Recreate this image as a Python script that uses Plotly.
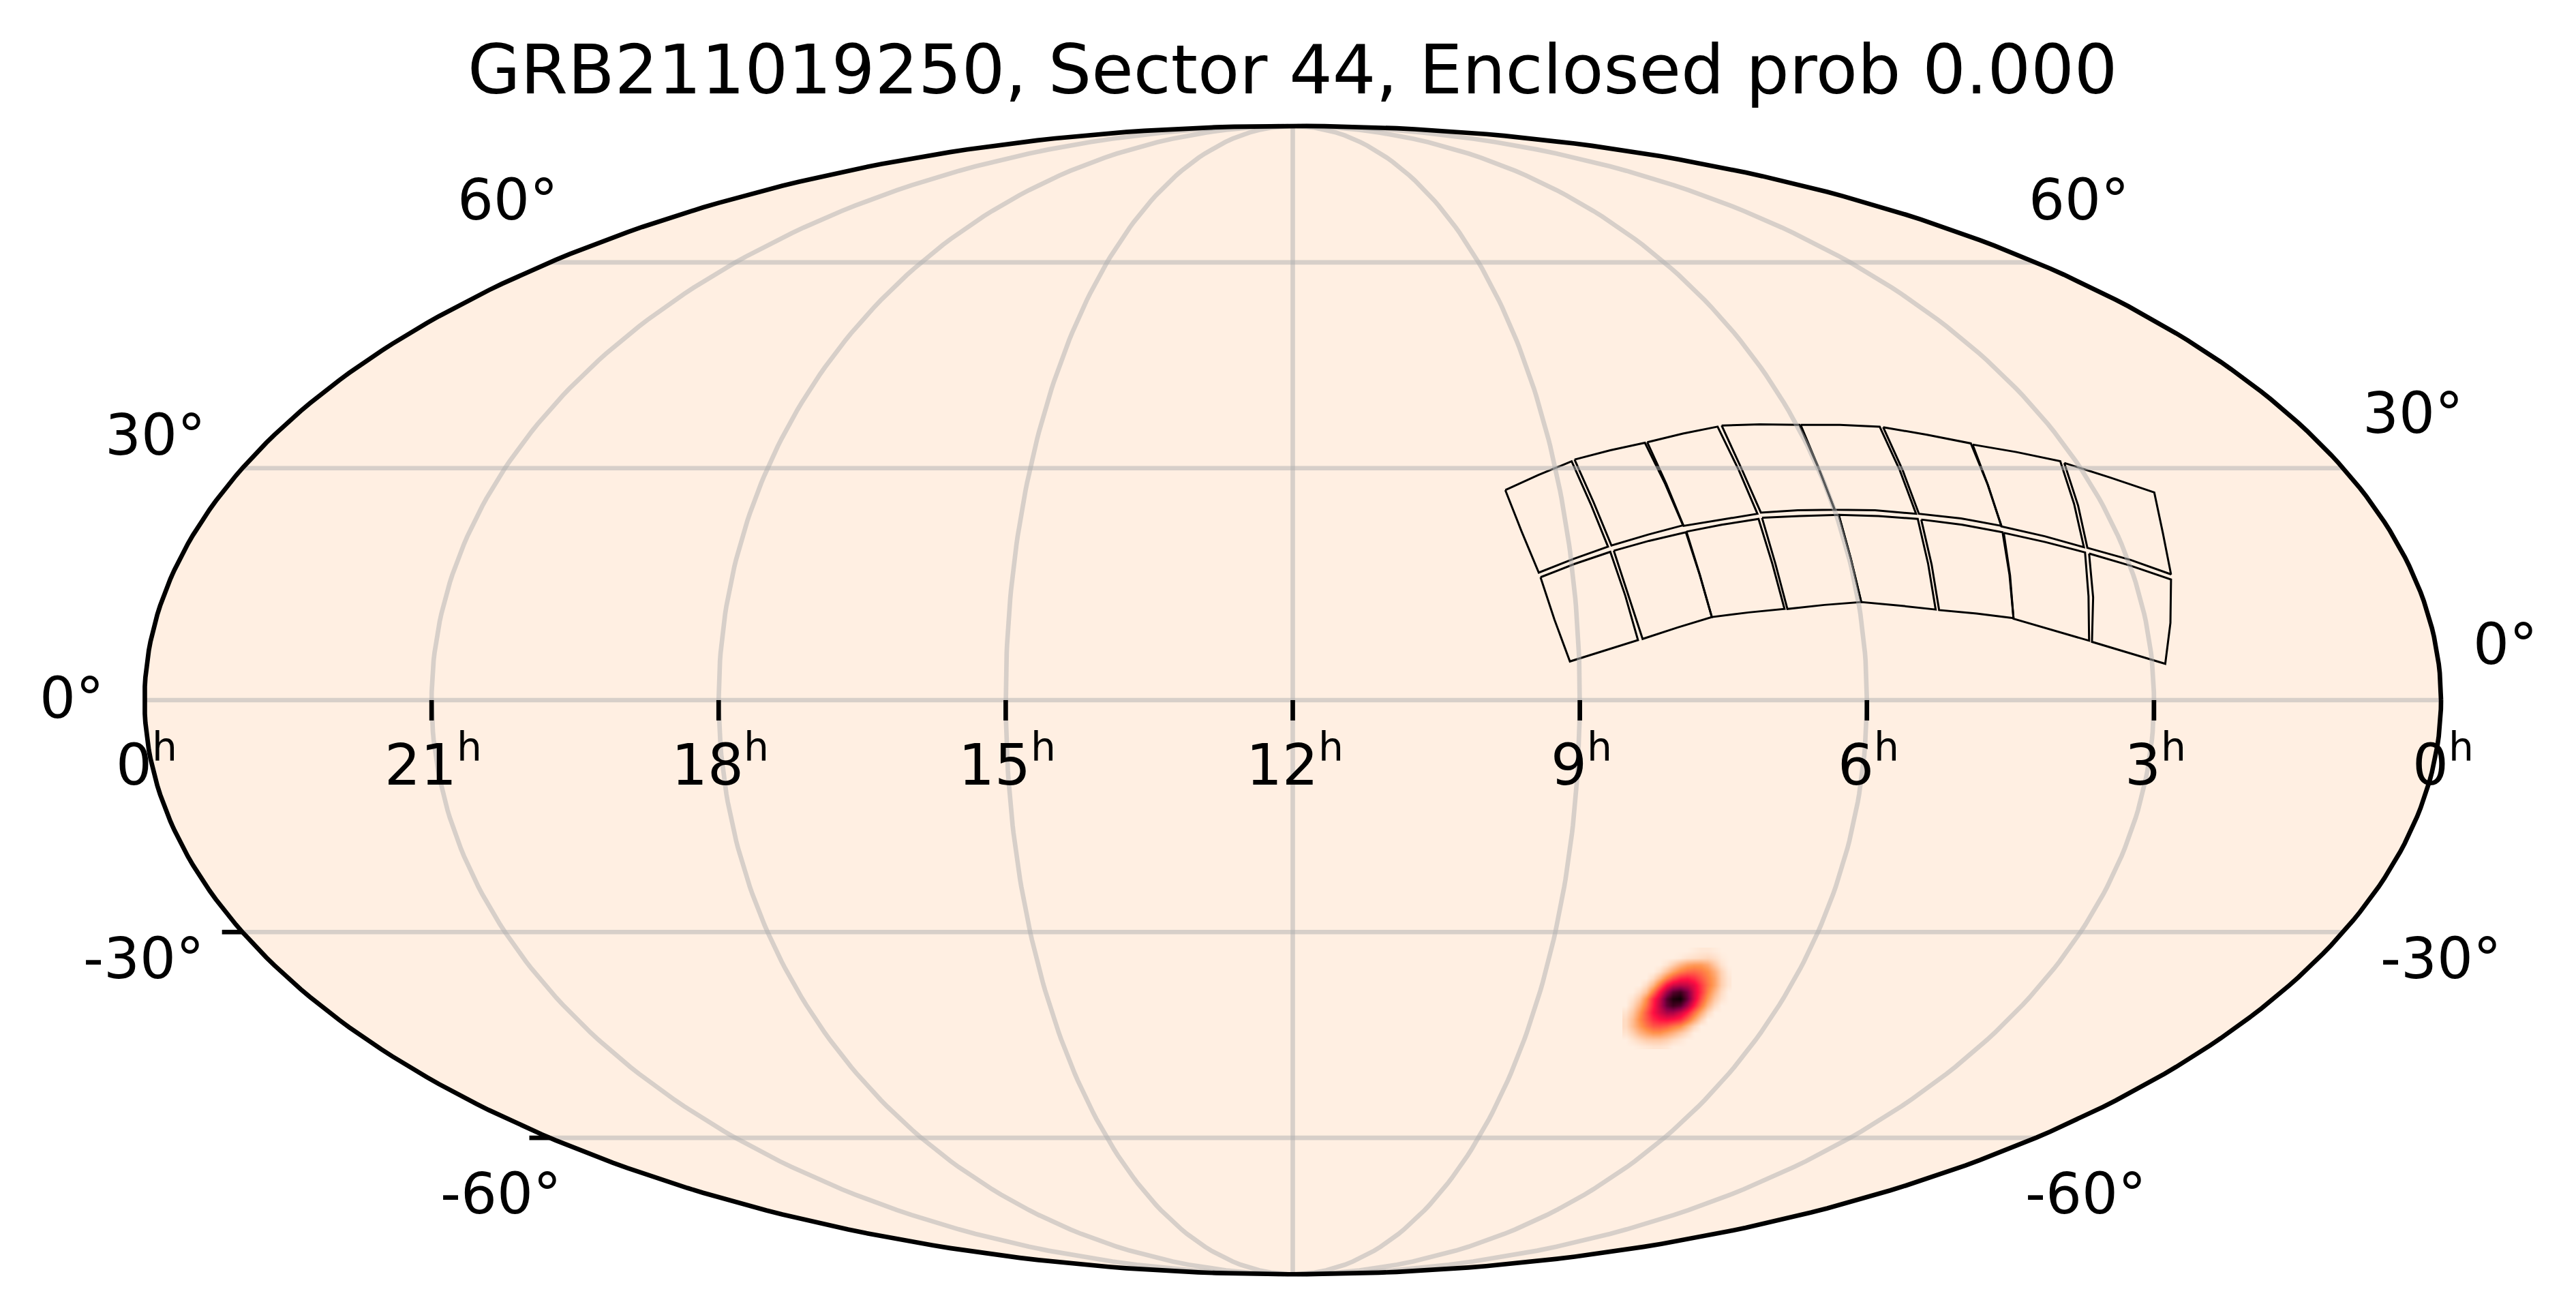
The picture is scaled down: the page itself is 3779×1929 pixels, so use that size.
import numpy as np
import plotly.graph_objects as go

TITLE = "GRB211019250, Sector 44, Enclosed prob 0.000"

# graticule
ra_ticks = [21, 18, 15, 12, 9, 6, 3]
dec_ticks = [-60, -30, 0, 30, 60]

# tick labels, map units (semi axes 2 and 1)
ra_labels = ["0", "21", "18", "15", "12", "9", "6", "3", "0"]
ra_label_x = [-1.997, -1.497, -0.997, -0.497, 0.003, 0.503, 1.003, 1.503, 2.003]
ra_label_y = -0.106
dec_labels = ["60°", "60°", "30°", "30°", "0°", "0°", "-30°", "-30°", "-60°", "-60°"]
dec_label_x = [-1.367, 1.370, -1.981, 1.951, -2.126, 2.112, -2.001, 2.000, -1.379, 1.381]
dec_label_y = [0.871, 0.871, 0.461, 0.499, 0.003, 0.097, -0.450, -0.450, -0.860, -0.860]

# detector footprints, corners plus edge midpoints
ccd_x = [
    [.359, .416, .474, .507, .537, .478, .417, .387],
    [.479, .541, .601, .636, .667, .607, .543, .512],
    [.605, .667, .727, .764, .796, .733, .668, .638],
    [.734, .800, .869, .902, .930, .866, .802, .769],
    [.871, .939, 1.008, 1.043, 1.071, 1.000, .930, .902],
    [1.014, 1.090, 1.166, 1.195, 1.219, 1.149, 1.076, 1.048],
    [1.169, 1.245, 1.321, 1.345, 1.362, 1.294, 1.219, 1.196],
    [1.328, 1.407, 1.484, 1.499, 1.513, 1.443, 1.368, 1.352],
    [.420, .479, .541, .567, .589, .531, .471, .444],
    [.547, .608, .672, .696, .717, .658, .597, .572],
    [.673, .734, .798, .822, .843, .781, .717, .696],
    [.804, .869, .937, .958, .976, .912, .848, .827],
    [.937, 1.006, 1.074, 1.092, 1.105, 1.041, .976, .958],
    [1.080, 1.151, 1.221, 1.233, 1.240, 1.176, 1.111, 1.098],
    [1.223, 1.295, 1.364, 1.370, 1.371, 1.306, 1.240, 1.234],
    [1.371, 1.443, 1.513, 1.512, 1.503, 1.440, 1.376, 1.378],
]
ccd_y = [
    [.364, .390, .414, .340, .266, .245, .221, .293],
    [.417, .433, .446, .375, .303, .287, .268, .343],
    [.447, .462, .474, .398, .323, .313, .302, .375],
    [.476, .478, .477, .402, .330, .329, .325, .400],
    [.477, .477, .474, .398, .323, .329, .330, .403],
    [.473, .460, .445, .374, .302, .315, .323, .398],
    [.443, .430, .414, .340, .265, .284, .301, .372],
    [.411, .386, .360, .289, .218, .243, .264, .337],
    [.213, .236, .257, .181, .104, .086, .067, .140],
    [.259, .276, .291, .217, .144, .126, .106, .183],
    [.292, .304, .314, .236, .158, .152, .144, .218],
    [.316, .319, .321, .245, .170, .165, .158, .237],
    [.321, .319, .314, .236, .157, .164, .170, .245],
    [.313, .304, .291, .217, .142, .150, .156, .235],
    [.290, .274, .256, .180, .103, .122, .141, .216],
    [.254, .233, .209, .134, .063, .082, .101, .178],
]

# probability blob, values
blob_x = [.568, .580, .591, .603, .615, .627, .639, .650, .662, .674, .686, .698, .710, .721, .733, .745]
blob_y = [-.435, -.447, -.459, -.470, -.482, -.494, -.506, -.518, -.530, -.541, -.553, -.565, -.577, -.589, -.600]
blob_z = [
    [0, 0, 0, 0, 0, 0, 0, 0, 0, 0, .01, .02, .02, .01, 0, 0],
    [0, 0, 0, 0, 0, 0, 0, 0, .01, .03, .04, .05, .06, .04, .01, 0],
    [0, 0, 0, 0, 0, 0, .03, .08, .15, .20, .22, .22, .18, .10, .03, 0],
    [0, 0, 0, 0, 0, .04, .12, .20, .28, .32, .33, .30, .25, .17, .07, .01],
    [0, 0, 0, 0, .05, .15, .28, .38, .46, .48, .44, .36, .28, .20, .08, .02],
    [0, 0, 0, .05, .15, .32, .50, .60, .64, .62, .55, .42, .30, .20, .08, .02],
    [0, 0, .04, .12, .30, .50, .70, .85, .90, .78, .58, .43, .27, .15, .05, 0],
    [0, .03, .10, .25, .45, .62, .85, .97, 1.0, .82, .58, .38, .22, .10, .03, 0],
    [0, .06, .16, .30, .47, .64, .82, .90, .85, .68, .48, .30, .15, .05, 0, 0],
    [.03, .10, .22, .36, .50, .60, .68, .68, .60, .48, .32, .18, .06, 0, 0, 0],
    [.05, .13, .25, .35, .45, .50, .52, .50, .45, .33, .20, .08, 0, 0, 0, 0],
    [.05, .13, .22, .30, .36, .37, .35, .30, .25, .15, .06, 0, 0, 0, 0, 0],
    [.03, .08, .15, .20, .24, .24, .20, .16, .10, .05, 0, 0, 0, 0, 0, 0],
    [0, .03, .06, .09, .10, .10, .08, .05, .02, 0, 0, 0, 0, 0, 0, 0],
    [0, 0, .01, .02, .03, .03, .02, 0, 0, 0, 0, 0, 0, 0, 0, 0],
]

# the readings above were taken with a slightly different ellipse, rescale to the final one
OFF, SCL = 0.0095, 1.00475
ccd_x = [[OFF + SCL * v for v in row] for row in ccd_x]
ccd_y = [[SCL * v for v in row] for row in ccd_y]
blob_x = [OFF + SCL * v for v in blob_x]
blob_y = [SCL * v for v in blob_y]

BG = "#FFEFE2"
GRID = "rgba(176,176,176,0.5)"
FONT = "DejaVu Sans"


def moll_theta(lat_deg):
    lat = np.radians(lat_deg)
    th = np.array(lat, dtype=float)
    for _ in range(60):
        th = th - (2 * th + np.sin(2 * th) - np.pi * np.sin(lat)) / (2 + 2 * np.cos(2 * th) + 1e-9)
    return th


def moll(ra_h, dec_deg):
    th = moll_theta(dec_deg)
    return (12 - ra_h) / 6 * np.cos(th), np.sin(th)


fig = go.Figure()

fig.add_trace(go.Heatmap(
    x=blob_x, y=blob_y, z=blob_z, zmin=0, zmax=1, zsmooth="best", showscale=False, hoverinfo="skip",
    colorscale=[[0, BG], [0.25, "#FF8F48"], [0.5, "#FF0F42"], [0.75, "#8A0048"], [1, "#100004"]],
))

for xs, ys in zip(ccd_x, ccd_y):
    fig.add_trace(go.Scatter(x=xs + xs[:1], y=ys + ys[:1], mode="lines",
                             line=dict(color="black", width=3), hoverinfo="skip"))

lat_line = np.linspace(-89.9, 89.9, 181)
for h in ra_ticks:
    mx, my = moll(np.full_like(lat_line, h), lat_line)
    fig.add_trace(go.Scatter(x=mx, y=my, mode="lines", line=dict(color=GRID, width=6.67), hoverinfo="skip"))
for d in dec_ticks:
    mx0, my0 = moll(24.0, d)
    mx1, my1 = moll(0.0, d)
    fig.add_trace(go.Scatter(x=[mx0, mx1], y=[my0, my1], mode="lines", line=dict(color=GRID, width=6.67), hoverinfo="skip"))

t = np.linspace(0, 2 * np.pi, 400)
fig.add_trace(go.Scatter(x=2 * np.cos(t), y=np.sin(t), mode="lines", line=dict(color="black", width=6.67), hoverinfo="skip"))

# ticks that show outside the grid
TICK = 0.0355
for h in ra_ticks:
    mx, my = moll(h, 0.0)
    fig.add_trace(go.Scatter(x=[mx, mx], y=[my, my - TICK], mode="lines", line=dict(color="black", width=6.67), hoverinfo="skip"))
for d in [-30, -60]:
    mx, my = moll(24.0, d)
    fig.add_trace(go.Scatter(x=[mx, mx - TICK], y=[my, my], mode="lines", line=dict(color="black", width=6.67), hoverinfo="skip"))

for lab, x in zip(ra_labels, ra_label_x):
    fig.add_annotation(x=x, y=ra_label_y, text=lab + "<sup>h</sup>", showarrow=False, xanchor="center", yanchor="middle",
                       font=dict(family=FONT, size=83.3, color="black"))
for lab, x, y in zip(dec_labels, dec_label_x, dec_label_y):
    fig.add_annotation(x=x, y=y, text=lab, showarrow=False, xanchor="center", yanchor="middle",
                       font=dict(family=FONT, size=83.3, color="black"))

fig.add_shape(type="circle", x0=-2, x1=2, y0=-1, y1=1, fillcolor=BG, line_width=0, layer="below")

fig.update_layout(
    width=3779, height=1929, margin=dict(l=0, r=0, t=0, b=0), showlegend=False,
    paper_bgcolor="white", plot_bgcolor="white",
    title=dict(text=TITLE, x=0.5018, xanchor="center", y=0.947, yanchor="middle", font=dict(family=FONT, size=100, color="black")),
    # ellipse centre sits at x=1896.5, y=1027 of the page, 842.25 px per map unit
    xaxis=dict(range=[-1896.5 / 842.25, (3779 - 1896.5) / 842.25], visible=False, fixedrange=True),
    yaxis=dict(range=[(1027 - 1929) / 842.25, 1027 / 842.25], visible=False, fixedrange=True),
)

fig.write_html("out.html", post_script="document.body.style.margin='0';", config={"displayModeBar": False})
